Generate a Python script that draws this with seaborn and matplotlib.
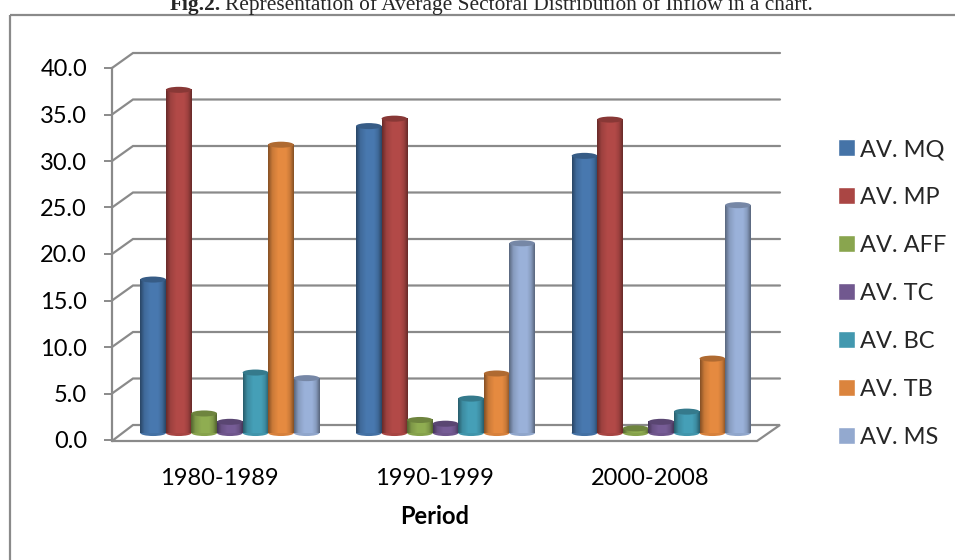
import matplotlib
matplotlib.use('Agg')
import matplotlib.pyplot as plt
import matplotlib.transforms as mtrans
import numpy as np
import pandas as pd
import seaborn as sns
from matplotlib.colors import LinearSegmentedColormap, to_rgb
from matplotlib.patches import Ellipse, Polygon, Rectangle

periods = ['1980-1989', '1990-1999', '2000-2008']
series = ['AV. MQ', 'AV. MP', 'AV. AFF', 'AV. TC', 'AV. BC', 'AV. TB', 'AV. MS']
mq = [16.5, 33.0, 29.8]
mp = [36.9, 33.8, 33.7]
aff = [2.1, 1.4, 0.5]
tc = [1.2, 1.0, 1.2]
bc = [6.5, 3.7, 2.3]
tb = [31.0, 6.4, 8.0]
ms = [5.9, 20.4, 24.5]
colors = ['#4573A7', '#AA4644', '#89A54E', '#71588F', '#4298AF', '#DB843D', '#93A9CF']
ticks = np.arange(0, 45, 5)

W, H = 955, 560
GREY = '#8a8a8a'
LABEL_FONT = 'Lato'
LABEL_SIZE = 17

df = pd.DataFrame({
    'period': np.repeat(periods, len(series)),
    'series': series * len(periods),
    'value': np.array([mq, mp, aff, tc, bc, tb, ms]).T.ravel(),
})

sns.set_theme(style='white')
fig = plt.figure(figsize=(W / 100, H / 100), dpi=100, facecolor='white')

# background layer is in pixels, for the fake 3d walls
bg = fig.add_axes([0, 0, 1, 1])
bg.set_xlim(0, W)
bg.set_ylim(H, 0)
bg.patch.set_visible(False)
for s in ['top', 'right', 'bottom']:
    bg.spines[s].set_visible(False)

bg.add_patch(Rectangle((10, 15), W, H, fill=False, ec=GREY, lw=1.6))

front_y = 440 - ticks * 9.3
back_y = front_y - 15
for fy, by in zip(front_y[1:], back_y[1:]):
    bg.plot([112, 133, 780], [fy, by, by], color=GREY, lw=1.6, zorder=1, solid_joinstyle='miter')
bg.add_patch(Polygon([[112, front_y[0] + 1], [133, back_y[0]], [780, back_y[0]], [757, front_y[0] + 1]],
                     closed=True, fc='white', ec=GREY, lw=1.6, zorder=1.5))

bg.spines['left'].set_position(('data', 112))
bg.spines['left'].set_bounds(front_y[-1], front_y[0] + 1)
bg.spines['left'].set_color(GREY)
bg.spines['left'].set_linewidth(1.6)
bg.set_xticks([])
bg.set_yticks(front_y)
bg.set_yticklabels([f'{t:.1f}' for t in ticks], fontsize=LABEL_SIZE, family=LABEL_FONT, color='black')
bg.tick_params(axis='y', length=6, width=1.4, color=GREY, pad=12, left=True)

# bars, value 0 sits at y=433
ax = fig.add_axes([122 / W, 1 - 433 / H, 647 / W, 372 / H])
ax.patch.set_visible(False)
sns.barplot(data=df, x='period', y='value', hue='series', palette=colors, saturation=1,
            width=0.83, gap=0, ax=ax)
xlim = (-0.5, 2.5)
ylim = (0, 40)

for cont, col in zip(ax.containers, colors):
    rgb = np.array(to_rgb(col))
    cmap = LinearSegmentedColormap.from_list(
        'cyl', [(0, rgb * 0.62), (0.16, rgb * 0.92), (0.4, np.minimum(rgb * 1.05, 1)),
                (0.7, np.minimum(rgb * 1.05, 1)), (0.86, rgb * 0.92), (1, rgb * 0.62)])
    for bar in cont:
        x0, w, h = bar.get_x(), bar.get_width(), bar.get_height()
        bar.set_visible(False)
        ax.imshow(np.linspace(0, 1, 40)[None, :], extent=[x0, x0 + w, 0, h], cmap=cmap,
                  aspect='auto', zorder=3)
        ax.add_patch(Ellipse((x0 + w / 2, 0), w, 0.65, fc=rgb * 0.98, ec='none', zorder=2.9, clip_on=False))
        ax.add_patch(Ellipse((x0 + w / 2, h), w, 0.65, fc=rgb * 0.8, ec='none', zorder=3.1, clip_on=False))

ax.set_xlim(xlim)
ax.set_ylim(ylim)
ax.set_yticks([])
sns.despine(ax=ax, left=True, bottom=True)
ax.tick_params(axis='x', length=0, pad=25.5)
ax.set_xticks(range(3))
ax.set_xticklabels(periods, fontsize=LABEL_SIZE, family=LABEL_FONT, color='black')
# category labels sit on the floor centre, a bit left of the bars
shift = mtrans.ScaledTranslation(-11 / 100, 0, fig.dpi_scale_trans)
for lab in ax.get_xticklabels():
    lab.set_transform(lab.get_transform() + shift)
ax.set_xlabel('')
ax.set_ylabel('')
fig.text(435 / W, 1 - 516 / H, 'Period', fontsize=LABEL_SIZE, family=LABEL_FONT, fontweight='bold',
         color='black', ha='center', va='center')

handles, labels = ax.get_legend_handles_labels()
ax.legend(handles, labels, loc='upper left', bbox_to_anchor=(838 / W, 1 - 139 / H),
          bbox_transform=fig.transFigure, frameon=False, handlelength=0.7, handleheight=0.7,
          handletextpad=0.23, labelspacing=1.14, borderpad=0, borderaxespad=0,
          prop={'family': LABEL_FONT, 'size': LABEL_SIZE})

# caption is cut by the top edge in the source
fig.text(170 / W, 1 - 10 / H, 'Fig.2.', family='Liberation Serif', fontweight='bold', fontsize=15.4, va='baseline')
fig.text(225 / W, 1 - 10 / H, 'Representation of Average Sectoral Distribution of Inflow in a chart.',
         family='Liberation Serif', fontsize=15.4, va='baseline')

fig.savefig('out.png', dpi=100)
